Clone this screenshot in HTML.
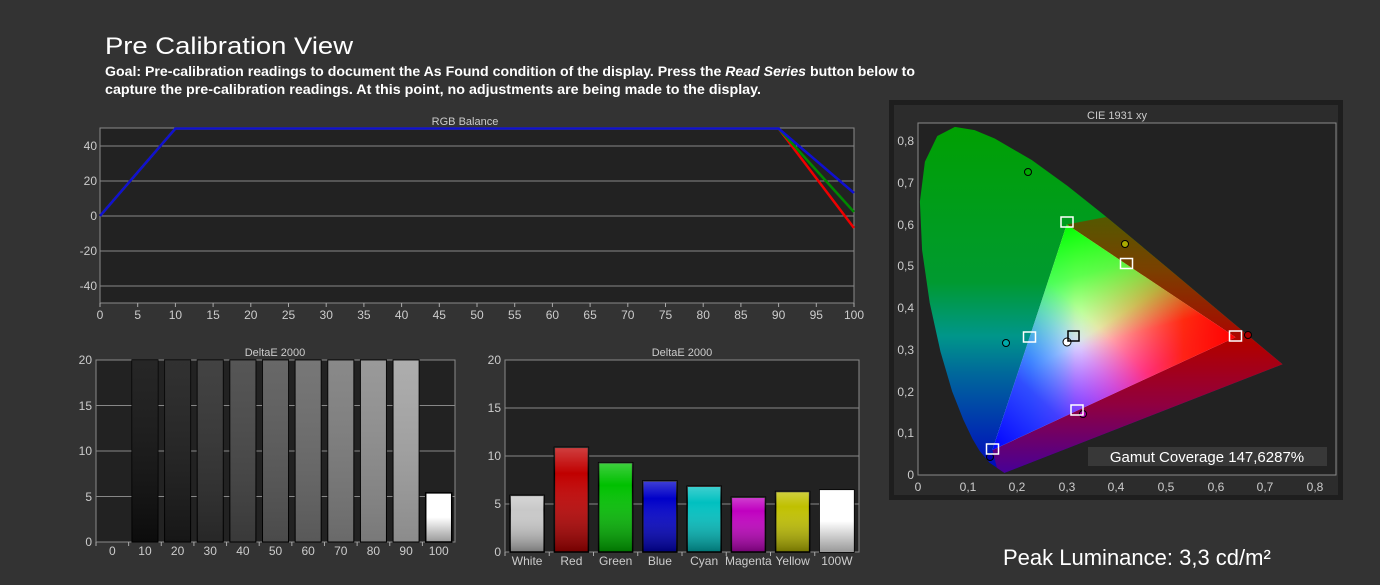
<!DOCTYPE html>
<html><head><meta charset="utf-8"><style>
html,body{margin:0;padding:0;background:#333;}
svg{display:block;font-family:"Liberation Sans",sans-serif;}
</style></head><body>
<svg width="1380" height="585" viewBox="0 0 1380 585" xmlns="http://www.w3.org/2000/svg">
<defs>
<linearGradient id="locg" x1="0" y1="0" x2="0" y2="1">
<stop offset="0" stop-color="#00a000"/><stop offset="0.45" stop-color="#009a30"/>
<stop offset="0.6" stop-color="#00968a"/><stop offset="0.7" stop-color="#006a9a"/>
<stop offset="0.86" stop-color="#0030b0"/><stop offset="1" stop-color="#0000c0"/></linearGradient>
<linearGradient id="rg" x1="0" y1="0" x2="0" y2="1">
<stop offset="0" stop-color="#3a6a00"/><stop offset="0.3" stop-color="#7a4000"/>
<stop offset="0.55" stop-color="#b00000"/><stop offset="0.75" stop-color="#900040"/>
<stop offset="1" stop-color="#4000a0"/></linearGradient>
<linearGradient id="tr" gradientUnits="userSpaceOnUse" x1="1235" y1="337" x2="1030" y2="337"><stop offset="0" stop-color="#ff0000"/><stop offset="0.25" stop-color="#ff2000" stop-opacity="0.9"/><stop offset="0.75" stop-color="#ff4060" stop-opacity="0"/></linearGradient>
<linearGradient id="tg" gradientUnits="userSpaceOnUse" x1="1067" y1="224" x2="1113" y2="394"><stop offset="0" stop-color="#00ff00"/><stop offset="0.3" stop-color="#40ff40" stop-opacity="0.85"/><stop offset="0.7" stop-color="#80ff80" stop-opacity="0"/></linearGradient>
<linearGradient id="tb" gradientUnits="userSpaceOnUse" x1="992" y1="450" x2="1151" y2="281"><stop offset="0" stop-color="#0000ff"/><stop offset="0.3" stop-color="#3030ff" stop-opacity="0.85"/><stop offset="0.7" stop-color="#8080ff" stop-opacity="0"/></linearGradient>
<linearGradient id="ty" gradientUnits="userSpaceOnUse" x1="1151" y1="281" x2="1080" y2="350"><stop offset="0" stop-color="#ffff00" stop-opacity="0.8"/><stop offset="1" stop-color="#ffff00" stop-opacity="0"/></linearGradient>
<linearGradient id="tm" gradientUnits="userSpaceOnUse" x1="1114" y1="394" x2="1080" y2="340"><stop offset="0" stop-color="#ff00ff" stop-opacity="0.8"/><stop offset="1" stop-color="#ff00ff" stop-opacity="0"/></linearGradient>
<linearGradient id="tc" gradientUnits="userSpaceOnUse" x1="1030" y1="337" x2="1075" y2="337"><stop offset="0" stop-color="#00ffff" stop-opacity="0.8"/><stop offset="1" stop-color="#00ffff" stop-opacity="0"/></linearGradient>
<clipPath id="loc"><path d="M1004.4,472.9 L989.4,462.6 979.6,450.9 972.4,438.8 963.3,419.6 952.1,391.2 940.5,351.8 929.7,302.7 922.1,250.2 919.9,201.6 924.9,161.8 937.3,136 954.9,126.9 974.6,130.1 994.7,138.5 1031.9,160.1 1067.6,186 1103.1,214.3 1138.3,243.4 1172.2,271.8 1203.3,297.9 1229,319.5 1261,346.3 1282.6,364.2 Z"/></clipPath>
<clipPath id="tri"><polygon points="1235.4,337.2 1066.8,224.5 992.4,450"/></clipPath>
<linearGradient id="bw" x1="0" y1="0" x2="0" y2="1"><stop offset="0" stop-color="#fff" stop-opacity="0.1"/><stop offset="1" stop-color="#000" stop-opacity="0.15"/></linearGradient>
<linearGradient id="bw2" x1="0" y1="0" x2="0" y2="1"><stop offset="0" stop-color="#fff" stop-opacity="0.25"/><stop offset="0.25" stop-color="#fff" stop-opacity="0"/><stop offset="1" stop-color="#000" stop-opacity="0.4"/></linearGradient>
<linearGradient id="wb" x1="0" y1="0" x2="0" y2="1"><stop offset="0" stop-color="#fff"/><stop offset="0.5" stop-color="#fff"/><stop offset="1" stop-color="#999"/></linearGradient>
</defs>

<text x="105" y="54" font-size="24" fill="#fff" textLength="248" lengthAdjust="spacingAndGlyphs">Pre Calibration View</text>
<text x="105" y="76" font-size="13.5" font-weight="bold" fill="#fff" textLength="810" lengthAdjust="spacingAndGlyphs">Goal: Pre-calibration readings to document the As Found condition of the display. Press the <tspan font-style="italic">Read Series</tspan> button below to</text>
<text x="105" y="94" font-size="13.5" font-weight="bold" fill="#fff" textLength="656" lengthAdjust="spacingAndGlyphs">capture the pre-calibration readings. At this point, no adjustments are being made to the display.</text>

<!-- RGB Balance -->
<text x="465" y="125" font-size="11" fill="#ccc" text-anchor="middle">RGB Balance</text>
<rect x="100" y="128" width="754" height="175" fill="#222" stroke="#8a8a8a"/>
<g stroke="#888" stroke-width="1">
<line x1="100" y1="146" x2="854" y2="146"/><line x1="100" y1="181" x2="854" y2="181"/>
<line x1="100" y1="216" x2="854" y2="216"/><line x1="100" y1="251" x2="854" y2="251"/>
<line x1="100" y1="286" x2="854" y2="286"/>
</g>
<g font-size="12" fill="#ccc" text-anchor="end">
<text x="97" y="150">40</text><text x="97" y="185">20</text><text x="97" y="220">0</text>
<text x="97" y="255">-20</text><text x="97" y="290">-40</text></g>
<g font-size="12" fill="#ccc" text-anchor="middle" id="xt"></g>
<polyline points="100,216 175.4,128.5 778.6,128.5 854,228" fill="none" stroke="#e00" stroke-width="2.5"/>
<polyline points="100,216 175.4,128.5 778.6,128.5 854,212" fill="none" stroke="#080" stroke-width="2.5"/>
<polyline points="100,216 175.4,128.5 778.6,128.5 854,193" fill="none" stroke="#1010d0" stroke-width="2.5"/>

<!-- Bar chart 1 -->
<text x="275" y="356" font-size="11" fill="#ccc" text-anchor="middle">DeltaE 2000</text>
<rect x="96" y="360" width="359" height="182" fill="#222" stroke="#8a8a8a"/>
<g stroke="#888"><line x1="96" y1="405.5" x2="455" y2="405.5"/><line x1="96" y1="451" x2="455" y2="451"/><line x1="96" y1="496.5" x2="455" y2="496.5"/></g>
<g font-size="12" fill="#ccc" text-anchor="end"><text x="92" y="364">20</text><text x="92" y="410">15</text><text x="92" y="455">10</text><text x="92" y="501">5</text><text x="92" y="546">0</text></g>
<g id="b1"></g>

<!-- Bar chart 2 -->
<text x="682" y="356" font-size="11" fill="#ccc" text-anchor="middle">DeltaE 2000</text>
<rect x="505" y="360" width="354" height="192" fill="#222" stroke="#8a8a8a"/>
<g stroke="#888"><line x1="505" y1="408" x2="859" y2="408"/><line x1="505" y1="456" x2="859" y2="456"/><line x1="505" y1="504" x2="859" y2="504"/></g>
<g font-size="12" fill="#ccc" text-anchor="end"><text x="501" y="364">20</text><text x="501" y="412">15</text><text x="501" y="460">10</text><text x="501" y="508">5</text><text x="501" y="556">0</text></g>
<g id="b2"></g>

<!-- CIE -->
<rect x="889" y="100" width="454" height="400" fill="#1e1e1e"/>
<rect x="894" y="105" width="444" height="390" fill="#2c2c2c"/>
<text x="1117" y="119" font-size="11" fill="#ccc" text-anchor="middle">CIE 1931 xy</text>
<rect x="918" y="123" width="418" height="352" fill="#222" stroke="#8a8a8a"/>
<g clip-path="url(#loc)">
<rect x="915" y="120" width="380" height="360" fill="url(#locg)"/>
<polygon points="1066.8,224.5 1300,180 1300,480 1000,480 992.4,450" fill="url(#rg)"/>
</g>
<g clip-path="url(#tri)">
<rect x="980" y="220" width="260" height="235" fill="#fff"/>
<rect x="980" y="220" width="260" height="235" fill="url(#ty)"/>
<rect x="980" y="220" width="260" height="235" fill="url(#tm)"/>
<rect x="980" y="220" width="260" height="235" fill="url(#tc)"/>
<rect x="980" y="220" width="260" height="235" fill="url(#tr)"/>
<rect x="980" y="220" width="260" height="235" fill="url(#tg)"/>
<rect x="980" y="220" width="260" height="235" fill="url(#tb)"/>
</g>
<g stroke="#000" stroke-width="1">
<circle cx="1028" cy="172" r="3.5" fill="#0a0"/><circle cx="1125" cy="244" r="3.5" fill="#aa0"/>
<circle cx="1248" cy="335" r="3.5" fill="#a00"/><circle cx="1006" cy="343" r="3.5" fill="#0aa"/>
<circle cx="1083" cy="414" r="3.5" fill="#a0a"/><circle cx="990" cy="457" r="3.5" fill="#00a"/>
<circle cx="1067" cy="342" r="4" fill="#fff"/></g>
<g fill="none" stroke="#fff" stroke-width="1.5">
<rect x="986.5" y="444" width="12" height="10"/><rect x="1061" y="217" width="12" height="10"/>
<rect x="1229.5" y="331" width="12" height="10"/><rect x="1023.5" y="332" width="12" height="10"/>
<rect x="1120.5" y="258.5" width="12" height="10"/><rect x="1071" y="405" width="12" height="10"/>
<rect x="1068" y="331" width="11" height="10" stroke="#000"/></g>
<g font-size="12" fill="#ccc" text-anchor="end">
<text x="914" y="479">0</text><text x="914" y="437">0,1</text><text x="914" y="396">0,2</text>
<text x="914" y="354">0,3</text><text x="914" y="312">0,4</text><text x="914" y="270">0,5</text>
<text x="914" y="229">0,6</text><text x="914" y="187">0,7</text><text x="914" y="145">0,8</text></g>
<g font-size="12" fill="#ccc" text-anchor="middle">
<text x="918" y="491">0</text><text x="968" y="491">0,1</text><text x="1017" y="491">0,2</text>
<text x="1067" y="491">0,3</text><text x="1116" y="491">0,4</text><text x="1166" y="491">0,5</text>
<text x="1216" y="491">0,6</text><text x="1265" y="491">0,7</text><text x="1315" y="491">0,8</text></g>
<rect x="1088" y="447" width="239" height="19" fill="#383838"/>
<text x="1207" y="462" font-size="15" fill="#fff" text-anchor="middle">Gamut Coverage 147,6287%</text>

<text x="1003" y="565" font-size="22" fill="#fff">Peak Luminance: 3,3 cd/m²</text>
</svg>
<script>
var NS="http://www.w3.org/2000/svg";
function el(p,t,a,txt){var e=document.createElementNS(NS,t);for(var k in a)e.setAttribute(k,a[k]);if(txt!=null)e.textContent=txt;p.appendChild(e);return e;}
var xt=document.getElementById('xt');
for(var i=0;i<=20;i++){var x=100+i*37.7;el(xt,'line',{x1:x,y1:303,x2:x,y2:307,stroke:'#aaa'});el(xt,'text',{x:x,y:319},i*5);}
var b1=document.getElementById('b1');
var gr=[null,'#0e0e0e','#1a1a1a','#2e2e2e','#434343','#575757','#686868','#7c7c7c','#8e8e8e','#a4a4a4'];
for(var i=0;i<11;i++){var c=96+32.64*(i+0.5);
 el(b1,'line',{x1:96+32.64*i,y1:542,x2:96+32.64*i,y2:546,stroke:'#aaa'});
 el(b1,'text',{x:c,y:555,'font-size':12,fill:'#ccc','text-anchor':'middle'},i*10);
 if(i>0&&i<10){el(b1,'rect',{x:c-13,y:360,width:26,height:182,fill:gr[i],stroke:'#000'});el(b1,'rect',{x:c-13,y:360,width:26,height:182,fill:'url(#bw)'});}
 if(i==10){var h=5.4*9.1;el(b1,'rect',{x:c-13,y:542-h,width:26,height:h,fill:'url(#wb)',stroke:'#000','stroke-width':1.5});}
}
var b2=document.getElementById('b2');
var v=[5.9,10.9,9.3,7.4,6.85,5.7,6.3,6.45],col=['#c8c8c8','#c00000','#00c000','#0000c8','#00c0c0','#c000c0','#c0c000','#fff'],lab=['White','Red','Green','Blue','Cyan','Magenta','Yellow','100W'];
for(var i=0;i<8;i++){var c=505+44.25*(i+0.5),h=v[i]*9.6;
 el(b2,'line',{x1:505+44.25*i,y1:552,x2:505+44.25*i,y2:556,stroke:'#aaa'});
 el(b2,'text',{x:c,y:565,'font-size':12,fill:'#ccc','text-anchor':'middle'},lab[i]);
 el(b2,'rect',{x:c-17,y:552-h,width:34,height:h,fill:col[i],stroke:'#000','stroke-width':1.5});
 el(b2,'rect',{x:c-17,y:552-h,width:34,height:h,fill:i==7?'url(#wb)':'url(#bw2)'});
}
</script>
</body></html>
